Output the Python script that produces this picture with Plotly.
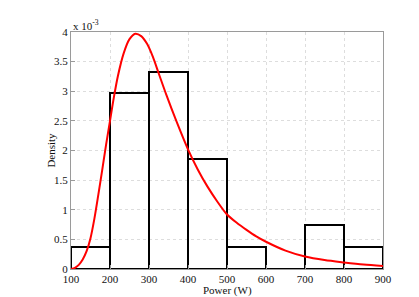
import plotly.graph_objects as go

# Histogram bins (W) and densities (x 1e-3)
bin_centers = [150, 250, 350, 450, 550, 650, 750, 850]
bar_density = [0.370, 2.963, 3.333, 1.852, 0.370, 0.0, 0.741, 0.370]

# Fitted density curve (x 1e-3)
curve_x = [100, 110, 120, 130, 140, 150, 160, 170, 180, 190, 200, 210, 220, 235, 250, 265,
           280, 295, 310, 325, 345, 370, 400, 425, 450, 475, 500, 525, 550, 575, 600, 650,
           700, 750, 800, 850, 900]
curve_y = [0.0, 0.02, 0.07, 0.16, 0.30, 0.52, 0.85, 1.25, 1.67, 2.1, 2.5, 2.9, 3.25, 3.64, 3.88, 3.97,
           3.93, 3.80, 3.58, 3.30, 2.93, 2.5, 2.02, 1.68, 1.39, 1.14, 0.92, 0.78, 0.66, 0.55, 0.46, 0.31,
           0.21, 0.15, 0.11, 0.075, 0.05]

x_ticks = [100, 200, 300, 400, 500, 600, 700, 800, 900]
y_ticks = [0, 0.5, 1, 1.5, 2, 2.5, 3, 3.5, 4]
y_tick_text = ["0", "0.5", "1", "1.5", "2", "2.5", "3", "3.5", "4"]

font = "Liberation Serif, Times New Roman, serif"

fig = go.Figure()
fig.add_trace(go.Bar(
    x=bin_centers, y=bar_density, width=100,
    marker=dict(color="rgba(255,255,255,0)", line=dict(color="black", width=2)),
    showlegend=False,
))
fig.add_trace(go.Scatter(
    x=curve_x, y=curve_y, mode="lines",
    line=dict(color="#ff0000", width=2, shape="spline", smoothing=0.8),
    showlegend=False,
))

axis_common = dict(
    showline=True, linecolor="#9a9a9a", linewidth=1, mirror=True,
    ticks="inside", ticklen=4, tickcolor="#9a9a9a",
    showgrid=True, gridcolor="#dddddd", griddash="dot", gridwidth=1,
    zeroline=False, automargin=False,
    tickfont=dict(family=font, size=11, color="#111"),
)

fig.update_layout(
    width=411, height=289,
    margin=dict(l=63, r=36, t=24, b=28),
    paper_bgcolor="white", plot_bgcolor="white",
    font=dict(family=font, size=11, color="#111"),
    xaxis=dict(range=[100, 900], tickvals=x_ticks, **axis_common),
    yaxis=dict(range=[0, 4], tickvals=y_ticks, ticktext=y_tick_text, **axis_common),
    annotations=[
        dict(text="x 10<sup>-3</sup>", xref="paper", yref="paper", x=0.0, y=1.0,
             xanchor="left", yanchor="bottom", showarrow=False, yshift=-2,
             font=dict(family=font, size=11, color="#111")),
        dict(text="Power (W)", xref="paper", yref="paper", x=0.5, y=0.0,
             xanchor="center", yanchor="middle", showarrow=False, yshift=-21,
             font=dict(family=font, size=11, color="#111")),
        dict(text="Density", xref="paper", yref="paper", x=-0.067, y=0.5,
             xanchor="center", yanchor="middle", showarrow=False, textangle=-90,
             font=dict(family=font, size=11, color="#111")),
    ],
    bargap=0,
)

fig.write_html("out.html")
